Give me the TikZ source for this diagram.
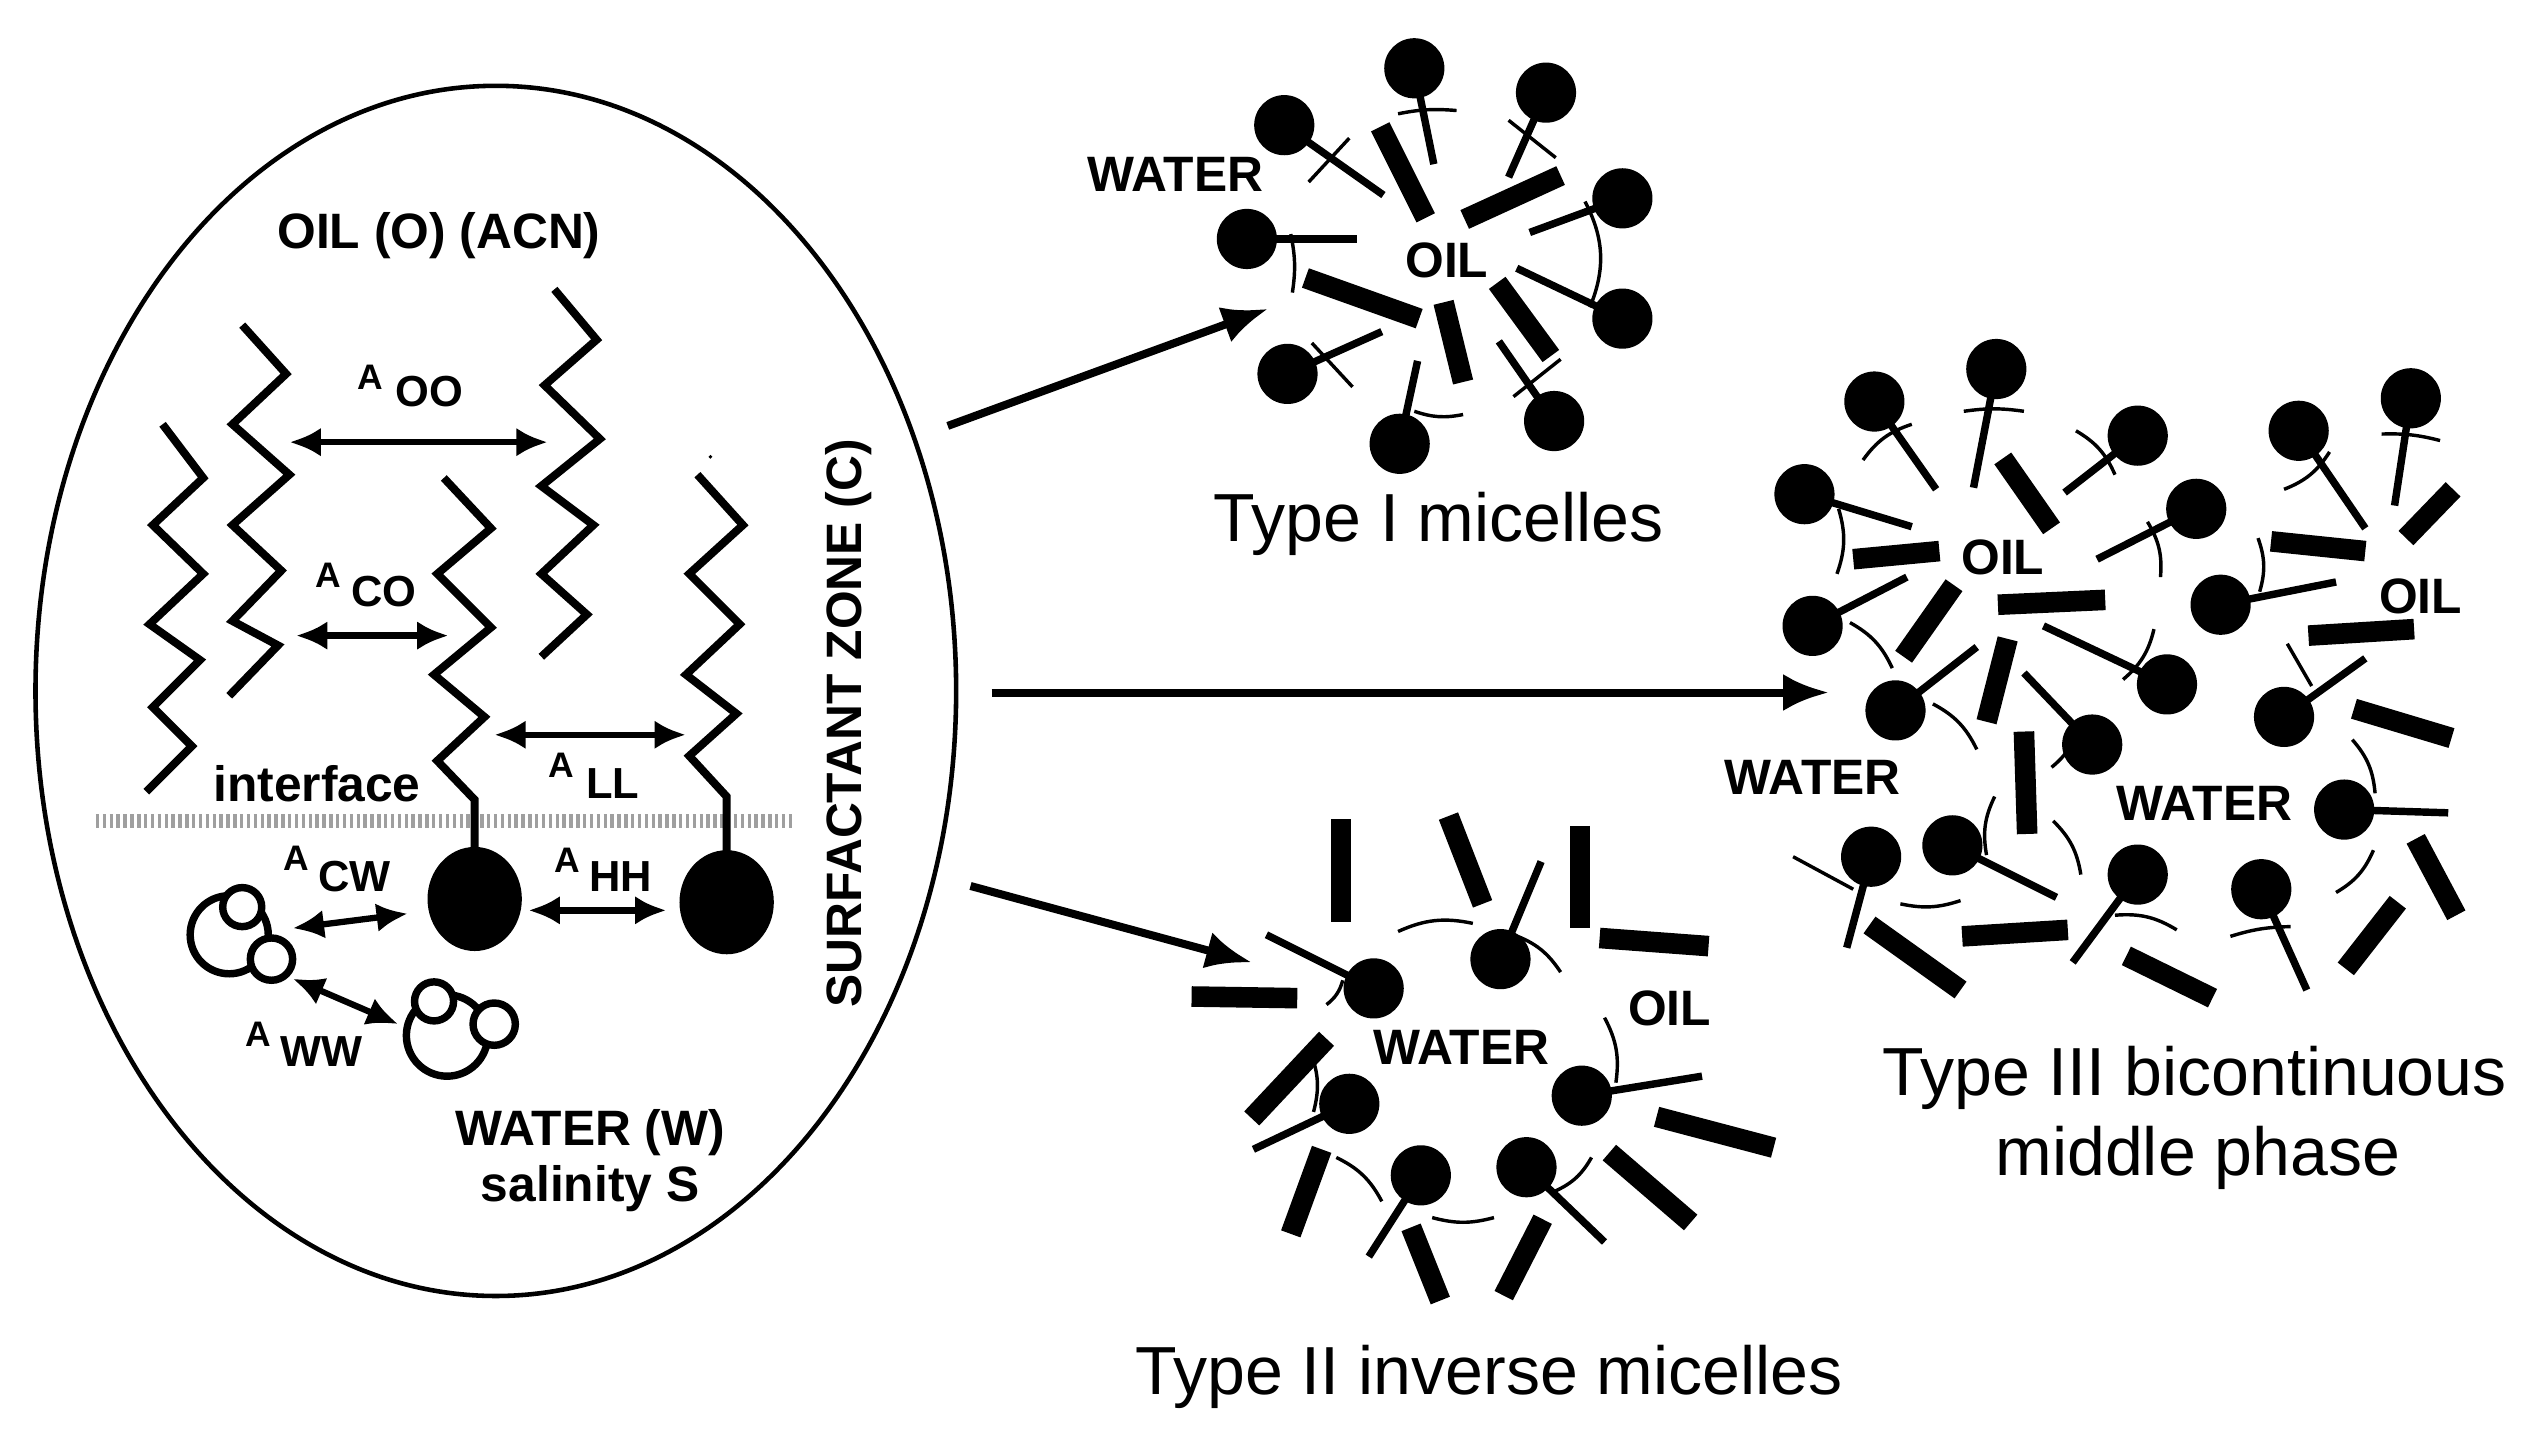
\documentclass[tikz,border=0pt]{standalone}
\usepackage{fontspec}
\setmainfont{Liberation Sans}
\usetikzlibrary{arrows.meta,shapes.geometric}
\begin{document}
\begin{tikzpicture}[x=0.01cm,y=-0.01cm,
  zig/.style={line width=1.4pt,line join=miter},
  dbl/.style={line width=1.1pt,{Latex[length=5.5pt,width=5pt]}-{Latex[length=5.5pt,width=5pt]}},
  big/.style={line width=1.4pt,-{Latex[length=8pt,width=6.5pt]}},
  lab/.style={font=\bfseries\fontsize{8.7}{10}\selectfont,inner sep=0pt},
  alab/.style={font=\bfseries\fontsize{6.2}{7}\selectfont,inner sep=0pt},
  slab/.style={font=\bfseries\fontsize{7.6}{8}\selectfont,inner sep=0pt},
  title/.style={font=\fontsize{11.9}{13}\selectfont,inner sep=0pt},
  tail/.style={line width=1.3pt},
  cb/.style={line width=0.6pt},
  rod/.style={line width=3.6pt},
  wat/.style={line width=1.3pt,fill=white}]
\useasboundingbox (0,0) rectangle (1560,888);
\newcommand\surf[2]{\draw[tail] (#1) -- (#2); \fill (#1) circle[radius=0.185cm];}
\newcommand\arcc[2]{\draw[cb] (#1) to[bend left=18] (#2);}
\newcommand\rodd[2]{\draw[rod] (#1) -- (#2);}

% ---- left zone ----
\node[draw,line width=0.8pt,ellipse,minimum width=5.66cm,minimum height=7.44cm,inner sep=0pt] (zone) at (305,425) {};
\coordinate (o1) at (583,262); \coordinate (o2) at (610,426); \coordinate (o3) at (597,545);
\coordinate (t1) at (780,190); \coordinate (t2) at (1125,426); \coordinate (t3) at (770,592);

\node[lab] (oil) at (270,145) {OIL (O) (ACN)};
\node[lab] (intf) at (195,482) {interface};
\node[lab] (wat) at (363,697) {WATER (W)};
\node[lab] (sal) at (363,731) {salinity S};
\node[lab,rotate=90] (sz) at (522,445) {SURFACTANT ZONE (C)};

\draw[gray!75,line width=2.6pt,dash pattern=on 0.6pt off 0.6pt] (59,505) -- (488,505);

\draw[zig] (100,261)--(125,294)--(94,323)--(125,353)--(92,384)--(123,406)--(94,435)--(118,459)--(90,487);
\draw[zig] (149,200)--(176,230)--(143,261)--(178,292)--(143,323)--(173,351)--(143,382)--(171,397)--(141,428);
\draw[zig] (341,178)--(367,209)--(335,237)--(369,270)--(333,299)--(365,323)--(333,353)--(361,378)--(333,404);
\draw[zig] (273,294)--(302,325)--(269,353)--(302,386)--(267,415)--(298,441)--(269,468)--(292,492)--(292,530);
\draw[zig] (429,292)--(457,323)--(424,353)--(455,384)--(422,415)--(453,439)--(424,465)--(447,490)--(447,530);
\fill (292,553) circle[x radius=0.29cm,y radius=0.32cm];
\fill (447,555) circle[x radius=0.29cm,y radius=0.32cm];
\fill (437,281) circle[radius=0.012cm];

\draw[dbl] (178,272)--(337,272);
\draw[dbl] (182,391)--(276,391);
\draw[dbl] (304,452)--(422,452);
\draw[dbl] (180,571)--(251,562);
\draw[dbl] (325,560)--(410,560);
\draw[dbl] (180,602)--(245,630);
\node[alab] at (228,232) {A}; \node[slab] at (264,241) {OO};
\node[alab] at (202,354) {A}; \node[slab] at (236,364) {CO};
\node[alab] at (345,471) {A}; \node[slab] at (377,482) {LL};
\node[alab] at (182,528) {A}; \node[slab] at (218,539) {CW};
\node[alab] at (349,529) {A}; \node[slab] at (382,539) {HH};
\node[alab] at (159,636) {A}; \node[slab] at (198,647) {WW};

\draw[wat] (141,575) circle[radius=0.24cm];
\draw[wat] (149,558) circle[radius=0.12cm];
\draw[wat] (167,590) circle[radius=0.13cm];
\draw[wat] (275,637) circle[radius=0.25cm];
\draw[wat] (267,616) circle[radius=0.12cm];
\draw[wat] (304,630) circle[radius=0.13cm];

\draw[big] (o1) -- (t1);
\draw[big] (o2) -- (t2);
\draw[big] (o3) -- (t3);

% ---- Type I ----
\node[lab] at (723,107) {WATER};
\node[lab] at (890,160) {OIL};
\surf{790,77}{851,120} \draw[cb] (805,112)--(830,85);
\surf{870,42}{882,101} \draw[cb] (860,70) to[bend left=8] (896,68);
\surf{951,57}{928,109} \draw[cb] (928,74)--(957,97);
\surf{998,122}{941,143}
\surf{998,196}{933,165} \draw[cb] (975,124) to[bend left=25] (978,189);
\surf{956,259}{922,210} \draw[cb] (931,244)--(960,221);
\surf{861,273}{872,222} \draw[cb] (870,253) to[bend right=15] (900,255);
\surf{792,230}{850,204} \draw[cb] (807,211)--(832,238);
\surf{767,147}{835,147} \draw[cb] (794,144) to[bend left=10] (795,180);
\rodd{849,78}{877,134} \rodd{901,135}{960,108} \rodd{803,171}{873,196}
\rodd{888,186}{900,235} \rodd{921,174}{954,219}
\node[title] at (885,322) {Type I micelles};

% ---- Type II ----
\node[lab] at (899,644) {WATER};
\node[lab] at (1027,620) {OIL};
\surf{845,608}{779,575} \arcc{826,603}{816,618}
\surf{923,590}{948,530} \arcc{860,573}{906,568} \arcc{931,575}{960,598}
\surf{830,679}{771,707} \arcc{806,647}{808,684}
\surf{973,674}{1047,662} \arcc{987,626}{994,666}
\surf{874,723}{842,773} \arcc{822,712}{850,739} \draw[cb] (881,749) to[bend right=15] (919,749);
\surf{939,718}{987,764} \arcc{979,712}{956,733}
\rodd{825,504}{825,567} \rodd{891,502}{912,556} \rodd{972,508}{972,571}
\rodd{984,577}{1051,582} \rodd{733,613}{798,614} \rodd{816,639}{770,688}
\rodd{813,707}{794,759} \rodd{868,755}{886,800} \rodd{949,750}{925,797}
\rodd{990,709}{1040,752} \rodd{1019,687}{1091,706}
\node[title] at (916,847) {Type II inverse micelles};

% ---- Type III ----
\node[lab] at (1232,343) {OIL};
\node[lab] at (1489,367) {OIL};
\node[lab] at (1115,478) {WATER};
\node[lab] at (1356,494) {WATER};
\surf{1153,247}{1191,301} \arcc{1146,283}{1176,261}
\surf{1228,227}{1214,300} \draw[cb] (1208,253) to[bend left=8] (1245,253);
\surf{1315,268}{1270,303} \arcc{1277,265}{1301,292}
\surf{1110,304}{1176,324} \arcc{1131,313}{1130,353}
\surf{1351,313}{1290,344} \arcc{1321,321}{1329,355}
\surf{1414,265}{1455,325} \arcc{1433,278}{1405,301}
\surf{1483,245}{1473,311} \draw[cb] (1465,267) to[bend left=8] (1501,271);
\surf{1115,385}{1173,355} \arcc{1138,383}{1164,411}
\surf{1366,372}{1437,358} \arcc{1389,331}{1390,364}
\surf{1333,421}{1257,385} \arcc{1325,387}{1306,418}
\surf{1166,437}{1216,398} \arcc{1189,433}{1216,461}
\surf{1287,458}{1245,414} \arcc{1278,447}{1262,472}
\surf{1405,441}{1455,405} \draw[cb] (1407,396)--(1422,422);
\surf{1442,498}{1506,500} \arcc{1447,455}{1461,488}
\surf{1151,527}{1136,583} \draw[cb] (1103,527)--(1140,547);
\surf{1201,520}{1265,552} \arcc{1222,526}{1227,490}
\surf{1315,538}{1275,592} \arcc{1301,563}{1339,572}
\surf{1391,547}{1419,609} \draw[cb] (1372,576) to[bend left=8] (1409,570);
\draw[cb] (1169,556) to[bend right=15] (1206,554);
\arcc{1263,505}{1280,538}
\arcc{1460,523}{1437,549}
\rodd{1232,282}{1262,325} \rodd{1140,344}{1193,339} \rodd{1229,372}{1295,369}
\rodd{1202,360}{1171,404} \rodd{1235,393}{1222,444} \rodd{1245,450}{1247,513}
\rodd{1397,333}{1455,339} \rodd{1509,301}{1480,331} \rodd{1420,391}{1485,387}
\rodd{1448,436}{1508,454} \rodd{1486,516}{1511,563} \rodd{1475,555}{1443,596}
\rodd{1207,576}{1272,572} \rodd{1150,569}{1206,609} \rodd{1308,588}{1361,614}
\node[title] at (1350,663) {Type III bicontinuous};
\node[title] at (1352,712) {middle phase};
\end{tikzpicture}
\end{document}
